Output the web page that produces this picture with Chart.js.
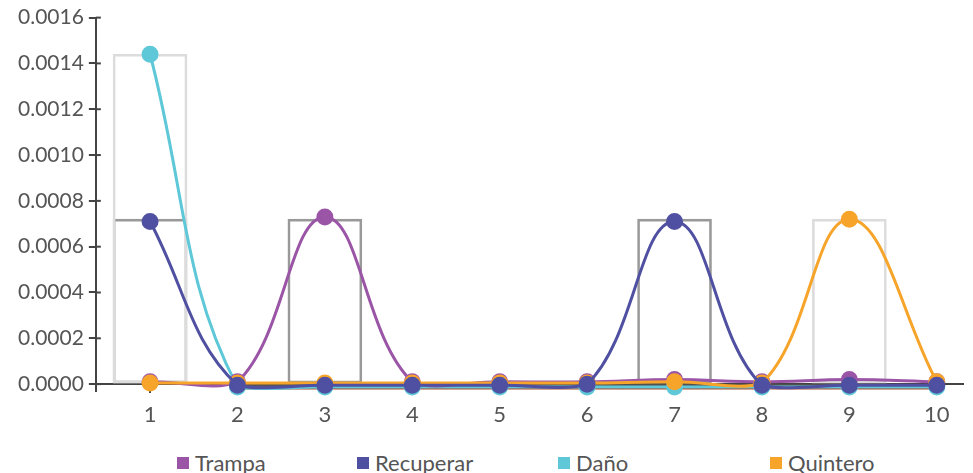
<!DOCTYPE html>
<html>
<head>
<meta charset="utf-8">
<script src="https://cdn.jsdelivr.net/npm/chart.js@4.4.1/dist/chart.umd.min.js"></script>
<style>
  html, body { margin: 0; padding: 0; background: #fff; }
  #wrap { position: relative; width: 973px; height: 473px; }
  #lienzo { position: absolute; left: 0; top: 0; width: 973px; height: 440px; }
  #leyenda { position: absolute; left: 177px; top: 449px; display: flex; font-family: Lato, sans-serif; font-size: 22px; color: #555; }
  #leyenda .item { display: flex; align-items: center; }
  #leyenda .item:nth-child(1) { width: 180px; }
  #leyenda .item:nth-child(2) { width: 201px; }
  #leyenda .item:nth-child(3) { width: 212px; }
  #leyenda .caja { width: 12px; height: 12px; margin-right: 6px; }
</style>
</head>
<body>
<div id="wrap">
  <div id="lienzo"><canvas id="grafica"></canvas></div>
  <div id="leyenda"></div>
</div>
<script>
// datos
const categorias = [1, 2, 3, 4, 5, 6, 7, 8, 9, 10];
const trampa     = [0.00001, 0.00001, 0.00073, 0.00001, 0.00001, 0.00001, 0.00002, 0.00001, 0.00002, 0.00001];
const recuperar  = [0.00071, -0.000005, -0.000005, -0.000005, -0.000005, 0, 0.00071, -0.000005, -0.000005, -0.000005];
const dano       = [0.00144, -0.000012, -0.000012, -0.000012, -0.000012, -0.000012, -0.000012, -0.000012, -0.000012, -0.000012];
const quintero   = [0.000005, 0.000005, 0.000005, 0.000005, 0.000005, 0.000005, 0.00001, 0.000005, 0.00072, 0.00001];
// lineas de fondo sin leyenda
const baseGris   = [null, -0.000007, -0.000007, -0.000007, -0.000007, -0.000007, -0.000007, -0.000007, -0.000007, -0.000007];
const baseCafe   = [null, -0.000017, -0.000017, -0.000017, -0.000017, -0.000017, -0.000017, -0.000017, -0.000017, -0.000017];
// barras (solo contorno)
const barraClara = [0.00144, null, null, null, null, null, null, null, 0.00072, null];
const barraGris  = [0.00072, null, 0.00072, null, null, null, 0.00072, null, null, null];
const ticksY = [0, 0.0002, 0.0004, 0.0006, 0.0008, 0.0010, 0.0012, 0.0014, 0.0016];

function puntos(valores) {
    return categorias.map((c, i) => ({ x: c, y: valores[i] }));
}

function serie(nombre, valores, color, orden) {
    return {
        type: 'line',
        label: nombre,
        data: puntos(valores),
        borderColor: color,
        backgroundColor: color,
        pointBackgroundColor: color,
        pointBorderColor: color,
        pointRadius: 7,
        borderWidth: 3,
        tension: 0.4,
        clip: false,
        order: orden
    };
}

function base(valores, color, orden) {
    return {
        type: 'line',
        label: '',
        data: puntos(valores),
        borderColor: color,
        borderWidth: 3,
        pointRadius: 0,
        clip: false,
        order: orden
    };
}

function barra(valores, color) {
    return {
        type: 'bar',
        label: '',
        data: puntos(valores),
        backgroundColor: 'rgba(0,0,0,0)',
        borderColor: color,
        borderWidth: 2,
        borderSkipped: false,
        barThickness: 74,
        grouped: false,
        order: 10
    };
}

// marcas cruzadas sobre los ejes (debajo de los puntos)
const marcasEje = {
    id: 'marcasEje',
    beforeDatasetsDraw(chart) {
        const ctx = chart.ctx;
        const xs = chart.scales.x, ys = chart.scales.y;
        const y0 = ys.getPixelForValue(0);
        ctx.save();
        ctx.strokeStyle = '#444';
        ctx.lineWidth = 2;
        ys.ticks.forEach((t, i) => {
            const py = ys.getPixelForTick(i);
            ctx.beginPath();
            ctx.moveTo(ys.right, py);
            ctx.lineTo(ys.right + 5, py);
            ctx.stroke();
        });
        xs.ticks.forEach((t, i) => {
            const px = xs.getPixelForTick(i);
            ctx.beginPath();
            ctx.moveTo(px, y0);
            ctx.lineTo(px, y0 - 8);
            ctx.stroke();
        });
        ctx.restore();
    }
};

const ctx = document.getElementById('grafica').getContext('2d');
const grafica = new Chart(ctx, {
    data: {
        datasets: [
            serie('Trampa', trampa, '#9b55a6', 3),
            serie('Recuperar', recuperar, '#5050a2', 1),
            serie('Daño', dano, '#5ec8d8', 4),
            serie('Quintero', quintero, '#f7a42b', 2),
            base(baseGris, '#555555', 6),
            base(baseCafe, '#a84a2a', 5),
            barra(barraClara, '#dcdcdc'),
            barra(barraGris, '#999999')
        ]
    },
    options: {
        responsive: true,
        maintainAspectRatio: false,
        animation: false,
        layout: { padding: { top: 2, right: 1, left: 13, bottom: 49 } },
        scales: {
            x: {
                type: 'linear',
                position: { y: 0 },
                min: 0.38,
                max: 10.3,
                offset: false,
                afterBuildTicks: function(scale) {
                    scale.ticks = categorias.map(c => ({ value: c }));
                },
                ticks: {
                    color: '#555',
                    font: { family: 'Lato', size: 22 },
                    padding: 10,
                    callback: function(value) { return String(value); }
                },
                grid: { drawOnChartArea: false, offset: false, color: '#444', lineWidth: 2, tickLength: 8 },
                border: { color: '#444', width: 2 }
            },
            y: {
                min: -0.00003,
                max: 0.0016,
                afterBuildTicks: function(scale) {
                    scale.ticks = ticksY.map(v => ({ value: v }));
                },
                ticks: {
                    color: '#555',
                    font: { family: 'Lato', size: 21 },
                    padding: 5,
                    callback: function(value) { return value.toFixed(4); }
                },
                grid: { drawOnChartArea: false, color: '#444', lineWidth: 2, tickLength: 7 },
                border: { color: '#444', width: 2 }
            }
        },
        plugins: {
            legend: { display: false },
            tooltip: { enabled: false }
        }
    },
    plugins: [marcasEje]
});

// leyenda en html con los colores de cada serie
const leyenda = document.getElementById('leyenda');
grafica.data.datasets.filter(d => d.label !== '').forEach(d => {
    const item = document.createElement('div');
    item.className = 'item';
    const caja = document.createElement('span');
    caja.className = 'caja';
    caja.style.background = d.borderColor;
    const texto = document.createElement('span');
    texto.textContent = d.label;
    item.appendChild(caja);
    item.appendChild(texto);
    leyenda.appendChild(item);
});
</script>
</body>
</html>
